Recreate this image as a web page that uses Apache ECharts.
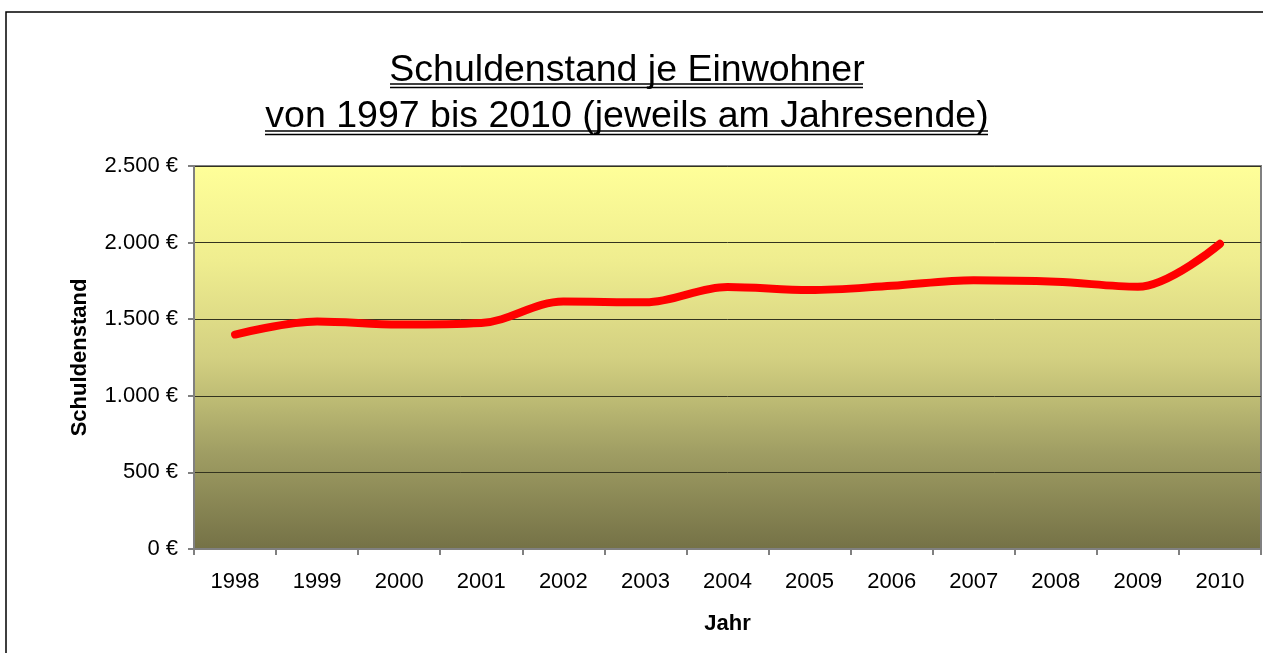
<!DOCTYPE html>
<html>
<head>
<meta charset="utf-8">
<script src="https://cdn.jsdelivr.net/npm/echarts@6/dist/echarts.min.js"></script>
<style>
  html, body { margin: 0; padding: 0; background: #fff; }
  #main_charts { width: 1263px; height: 653px; }
</style>
</head>
<body>
<div id="main_charts"></div>
<script>
// Jahre (Jahresende)
var jahre = ['1998', '1999', '2000', '2001', '2002', '2003', '2004', '2005', '2006', '2007', '2008', '2009', '2010'];
// Schuldenstand je Einwohner in Euro
var schuldenstand = [1400, 1485, 1465, 1475, 1615, 1610, 1710, 1690, 1718, 1755, 1745, 1712, 1992];
var titelZeilen = ['Schuldenstand je Einwohner', 'von 1997 bis 2010 (jeweils am Jahresende)'];

var myChart = echarts.init(document.getElementById('main_charts'));

var schrift = 'Arial, "Liberation Sans", sans-serif';

var option = {
    animation: false,
    title: {
        text: titelZeilen.join('\n'),
        top: 43,
        left: 622,
        textAlign: 'center',
        textStyle: {
            fontFamily: schrift,
            fontSize: 37.5,
            fontWeight: 'normal',
            color: '#000',
            lineHeight: 46
        }
    },
    grid: {
        left: 194,
        right: 2,
        top: 166,
        bottom: 104,
        show: true,
        borderColor: '#808080',
        borderWidth: 2,
        backgroundColor: new echarts.graphic.LinearGradient(0, 0, 0, 1, [
            { offset: 0, color: '#FFFF99' },
            { offset: 0.25, color: '#EFED8F' },
            { offset: 0.5, color: '#D3D081' },
            { offset: 0.6, color: '#BFBD75' },
            { offset: 0.75, color: '#9F9D63' },
            { offset: 1, color: '#747146' }
        ])
    },
    xAxis: {
        type: 'category',
        data: jahre,
        boundaryGap: true,
        name: 'Jahr',
        nameLocation: 'middle',
        nameGap: 64,
        nameTextStyle: { fontFamily: schrift, fontSize: 22, fontWeight: 'bold', color: '#000' },
        axisLine: { lineStyle: { color: '#808080', width: 2 } },
        axisTick: { show: true, length: 6, lineStyle: { color: '#808080', width: 2 } },
        axisLabel: { fontFamily: schrift, fontSize: 22, color: '#000', margin: 22 },
        splitLine: { show: false }
    },
    yAxis: {
        type: 'value',
        min: 0,
        max: 2500,
        interval: 500,
        name: 'Schuldenstand',
        nameLocation: 'middle',
        nameGap: 103,
        nameRotate: 90,
        nameTextStyle: { fontFamily: schrift, fontSize: 22, fontWeight: 'bold', color: '#000' },
        axisLine: { show: true, lineStyle: { color: '#808080', width: 2 } },
        axisTick: { show: true, length: 6, lineStyle: { color: '#808080', width: 2 } },
        axisLabel: {
            fontFamily: schrift,
            fontSize: 22,
            color: '#000',
            margin: 16,
            formatter: function (v) {
                return String(v).replace(/\B(?=(\d{3})+(?!\d))/g, '.') + ' €';
            }
        },
        splitLine: { show: true, lineStyle: { color: '#33331f', width: 1 } }
    },
    series: [{
        type: 'line',
        data: schuldenstand,
        smooth: 0.35,
        symbol: 'none',
        lineStyle: { color: '#FF0000', width: 8, cap: 'round', join: 'round' }
    }],
    graphic: [
        // Rahmen um das ganze Diagramm
        { type: 'rect', shape: { x: 6, y: 12, width: 1270, height: 660 },
          style: { fill: 'none', stroke: '#000', lineWidth: 1.5 }, silent: true },
        // doppelte Unterstreichung Titel
        { type: 'line', shape: { x1: 390, y1: 84, x2: 863, y2: 84 }, style: { stroke: '#000', lineWidth: 1.4 } },
        { type: 'line', shape: { x1: 390, y1: 87.5, x2: 863, y2: 87.5 }, style: { stroke: '#000', lineWidth: 1.4 } },
        { type: 'line', shape: { x1: 265, y1: 131, x2: 988, y2: 131 }, style: { stroke: '#000', lineWidth: 1.4 } },
        { type: 'line', shape: { x1: 265, y1: 134.5, x2: 988, y2: 134.5 }, style: { stroke: '#000', lineWidth: 1.4 } }
    ]
};
myChart.setOption(option);
</script>
</body>
</html>
